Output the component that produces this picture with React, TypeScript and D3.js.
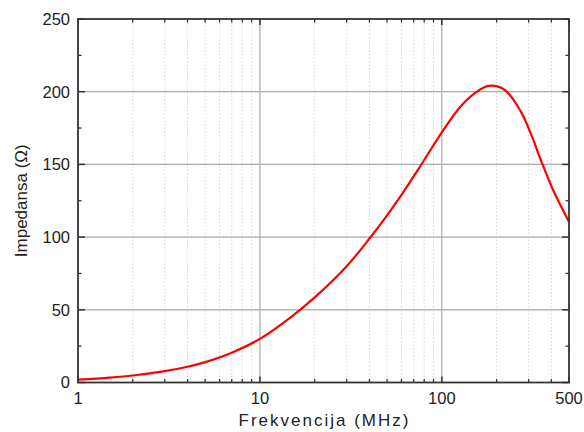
import React from "react";
import * as d3 from "d3";

const freqs = [1, 1.5, 2, 3, 4, 5, 7, 10, 15, 20, 30, 40, 50, 60, 75, 100, 125, 150, 180, 220, 270, 310, 350, 410, 500];
const impedance = [2, 3.4, 4.8, 7.8, 10.8, 14, 20.5, 30, 45.5, 58.5, 80, 99, 115, 129, 147.5, 172, 189, 198.5, 204, 201.5, 187, 170.5, 153, 132, 110.5];
const xTickValues = [1, 10, 100, 500];
const xTickLabels = ["1", "10", "100", "500"];
const yTickValues = [0, 50, 100, 150, 200, 250];
const yMinorValues = [25, 75, 125, 175, 225];
const xMinorValues = [2, 3, 4, 5, 6, 7, 8, 9, 20, 30, 40, 50, 60, 70, 80, 90, 200, 300, 400];
const xTitle = "Frekvencija (MHz)";
const yTitle = "Impedansa (Ω)";

const W = 584, H = 432;
const L = 78, R = 569, T = 19, B = 382.5;
const FONT = "'Liberation Sans', Arial, sans-serif";

export default function App() {
  const x = d3.scaleLog().domain([1, 500]).range([L, R]);
  const y = d3.scaleLinear().domain([0, 250]).range([B, T]);
  const data = freqs.map((f, i) => ({ f, v: impedance[i] }));
  const line = d3
    .line<{ f: number; v: number }>()
    .x((d) => x(d.f))
    .y((d) => y(d.v))
    .curve(d3.curveCatmullRom.alpha(0.5));
  const axisColor = "#333";
  return (
    <svg width={W} height={H} style={{ position: "absolute", left: 0, top: 0, background: "#fff" }}>
      {xMinorValues.map((v) => (
        <line key={"mg" + v} x1={x(v)} x2={x(v)} y1={T} y2={B} stroke="#d4d4d4" strokeWidth={1} strokeDasharray="1.5,2" />
      ))}
      {[10, 100].map((v) => (
        <line key={"gx" + v} x1={x(v)} x2={x(v)} y1={T} y2={B} stroke="#a8a8a8" strokeWidth={1.2} />
      ))}
      {yTickValues.slice(1, -1).map((v) => (
        <line key={"gy" + v} x1={L} x2={R} y1={y(v)} y2={y(v)} stroke="#a8a8a8" strokeWidth={1.2} />
      ))}
      {xTickValues.map((v) => (
        <g key={"tx" + v}>
          <line x1={x(v)} x2={x(v)} y1={B} y2={B - 6} stroke={axisColor} strokeWidth={1.5} />
          <line x1={x(v)} x2={x(v)} y1={T} y2={T + 6} stroke={axisColor} strokeWidth={1.5} />
        </g>
      ))}
      {xMinorValues.map((v) => (
        <g key={"tmx" + v}>
          <line x1={x(v)} x2={x(v)} y1={B} y2={B - 3.5} stroke={axisColor} strokeWidth={1.3} />
          <line x1={x(v)} x2={x(v)} y1={T} y2={T + 3.5} stroke={axisColor} strokeWidth={1.3} />
        </g>
      ))}
      {yTickValues.map((v) => (
        <g key={"ty" + v}>
          <line x1={L} x2={L + 7} y1={y(v)} y2={y(v)} stroke={axisColor} strokeWidth={1.5} />
          <line x1={R} x2={R - 7} y1={y(v)} y2={y(v)} stroke={axisColor} strokeWidth={1.5} />
        </g>
      ))}
      {yMinorValues.map((v) => (
        <g key={"tmy" + v}>
          <line x1={L} x2={L + 3.5} y1={y(v)} y2={y(v)} stroke={axisColor} strokeWidth={1.3} />
          <line x1={R} x2={R - 3.5} y1={y(v)} y2={y(v)} stroke={axisColor} strokeWidth={1.3} />
        </g>
      ))}
      <path d={line(data) || ""} fill="none" stroke="#ff0000" strokeWidth={2.2} />
      <rect x={L} y={T} width={R - L} height={B - T} fill="none" stroke={axisColor} strokeWidth={1.8} />
      {xTickValues.map((v, i) => (
        <text key={"lx" + v} x={x(v)} y={404} textAnchor="middle" fontFamily={FONT} fontSize={16.5} fill="#222">
          {xTickLabels[i]}
        </text>
      ))}
      {yTickValues.map((v) => (
        <text key={"ly" + v} x={70} y={y(v)} dy="0.36em" textAnchor="end" fontFamily={FONT} fontSize={16.5} fill="#222">
          {v}
        </text>
      ))}
      <text x={(L + R) / 2 + 1} y={426} textAnchor="middle" fontFamily={FONT} fontSize={17} letterSpacing={2} fill="#222">
        {xTitle}
      </text>
      <text
        transform={`translate(27,${(T + B) / 2}) rotate(-90)`}
        textAnchor="middle"
        fontFamily={FONT}
        fontSize={17}
        fill="#222"
      >
        {yTitle}
      </text>
    </svg>
  );
}
